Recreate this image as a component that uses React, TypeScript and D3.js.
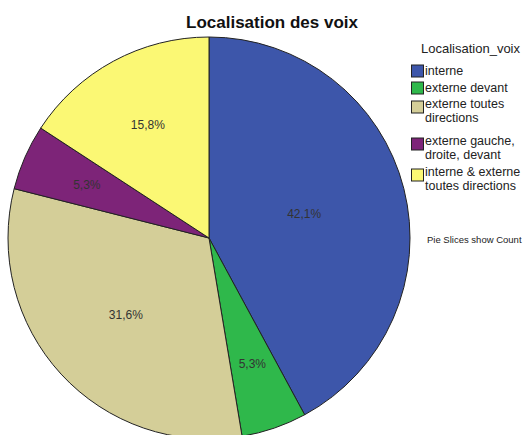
import React from "react";
import * as d3 from "d3";

const categories = [
  "interne",
  "externe devant",
  "externe toutes directions",
  "externe gauche, droite, devant",
  "interne & externe toutes directions",
];
const legendLines = [
  ["interne"],
  ["externe devant"],
  ["externe toutes", "directions"],
  ["externe gauche,", "droite, devant"],
  ["interne & externe", "toutes directions"],
];
const counts = [8, 1, 6, 1, 3];
const colors = ["#3d56aa", "#2fb84b", "#d4ce98", "#7d2478", "#fbf874"];

export default function App() {
  const W = 525, H = 435;
  const cx = 209, cy = 238, R = 201;
  const total = d3.sum(counts);
  const pie = d3.pie<number>().sort(null).value((d) => d);
  const arcs = pie(counts);
  const arc = d3.arc<d3.PieArcDatum<number>>().innerRadius(0).outerRadius(R);
  const fmt = (v: number) => ((v / total) * 100).toFixed(1).replace(".", ",") + "%";

  const labelPos = (a: d3.PieArcDatum<number>) => {
    const theta = a.endAngle - a.startAngle;
    const half = theta / 2;
    const r = (2 / 3) * R * Math.sin(half) / half;
    const mid = (a.startAngle + a.endAngle) / 2;
    return [r * Math.sin(mid), -r * Math.cos(mid)];
  };

  const legendY = [71, 88, 103.5, 140.5, 171.5];

  return (
    <svg width={W} height={H} style={{ position: "absolute", left: 0, top: 0, background: "#fff" }}
      fontFamily="'Liberation Sans', Arial, sans-serif">
      <text x={272} y={28} textAnchor="middle" fontSize={17} fontWeight="bold" fill="#111">
        Localisation des voix
      </text>
      <g transform={`translate(${cx},${cy})`}>
        {arcs.map((a, i) => (
          <path key={i} d={arc(a) || ""} fill={colors[i]} stroke="#222" strokeWidth={1} />
        ))}
        {arcs.map((a, i) => {
          const [x, y] = labelPos(a);
          return (
            <text key={"l" + i} x={x} y={y} dy="0.35em" textAnchor="middle" fontSize={12} fill="#333">
              {fmt(counts[i])}
            </text>
          );
        })}
      </g>
      <text x={421} y={48} dy="0.35em" fontSize={13} fill="#222">Localisation_voix</text>
      {categories.map((c, i) => {
        const n = legendLines[i].length;
        const sy = n > 1 ? legendY[i] + 3.5 : legendY[i];
        return (
          <g key={c}>
            <rect x={411.5} y={sy - 6} width={12} height={12} fill={colors[i]} stroke="#222" strokeWidth={1} />
            {legendLines[i].map((ln, j) => (
              <text key={j} x={425} y={legendY[i] + j * 14} dy="0.35em" fontSize={12.5} fill="#222">
                {ln}
              </text>
            ))}
          </g>
        );
      })}
      <text x={427} y={240} dy="0.35em" fontSize={9.5} fill="#222">Pie Slices show Count</text>
    </svg>
  );
}
